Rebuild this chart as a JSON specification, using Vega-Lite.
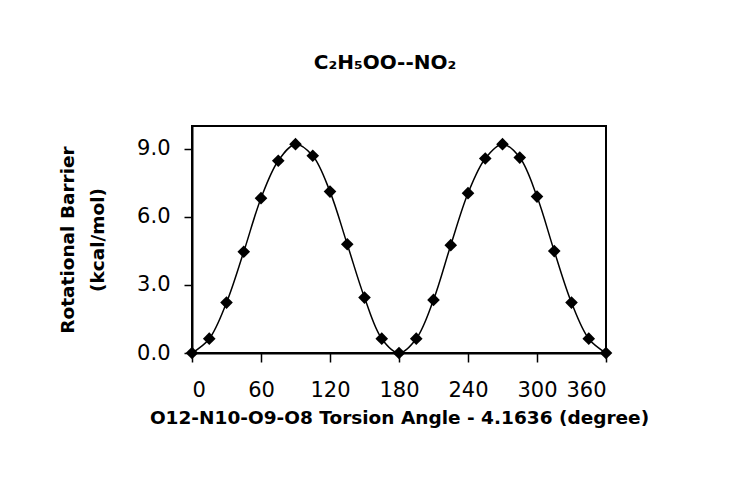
{
  "$schema": "https://vega.github.io/schema/vega-lite/v6.json",
  "autosize": {"type": "none"},
  "padding": {"left": 192, "top": 126, "right": 146, "bottom": 125},
  "width": 414,
  "height": 227,
  "background": "white",
  "config": {
    "view": {"stroke": "black", "strokeWidth": 2},
    "font": "DejaVu Sans"
  },
  "title": {
    "text": "C₂H₅OO--NO₂",
    "fontSize": 20,
    "fontWeight": "bold",
    "font": "DejaVu Sans",
    "color": "black",
    "anchor": "middle",
    "baseline": "alphabetic",
    "dx": -14,
    "offset": 37
  },
  "data": {
    "values": [
      {"angle": 0, "barrier": 0},
      {"angle": 15, "barrier": 0.63},
      {"angle": 30, "barrier": 2.22},
      {"angle": 45, "barrier": 4.46},
      {"angle": 60, "barrier": 6.82},
      {"angle": 75, "barrier": 8.47},
      {"angle": 90, "barrier": 9.2},
      {"angle": 105, "barrier": 8.69},
      {"angle": 120, "barrier": 7.11},
      {"angle": 135, "barrier": 4.79},
      {"angle": 150, "barrier": 2.44},
      {"angle": 165, "barrier": 0.63},
      {"angle": 180, "barrier": 0},
      {"angle": 195, "barrier": 0.63},
      {"angle": 210, "barrier": 2.34},
      {"angle": 225, "barrier": 4.75},
      {"angle": 240, "barrier": 7.04},
      {"angle": 255, "barrier": 8.57},
      {"angle": 270, "barrier": 9.2},
      {"angle": 285, "barrier": 8.61},
      {"angle": 300, "barrier": 6.89},
      {"angle": 315, "barrier": 4.49},
      {"angle": 330, "barrier": 2.22},
      {"angle": 345, "barrier": 0.63},
      {"angle": 360, "barrier": 0}
    ]
  },
  "encoding": {
    "x": {
      "field": "angle",
      "type": "quantitative",
      "scale": {"domain": [0, 360], "nice": false, "zero": false},
      "axis": {
        "values": [0, 60, 120, 180, 240, 300, 360],
        "title": "O12-N10-O9-O8 Torsion Angle - 4.1636 (degree)",
        "titleFont": "DejaVu Sans",
        "titleFontSize": 18.5,
        "titleFontWeight": "bold",
        "titleColor": "black",
        "titlePadding": 8,
        "labelFontSize": 21,
        "labelColor": "black",
        "labelPadding": 17,
        "labelFont": "DejaVu Sans",
        "domainColor": "black",
        "domainWidth": 2,
        "tickColor": "black",
        "tickWidth": 1.5,
        "tickSize": 9,
        "grid": false
      }
    },
    "y": {
      "field": "barrier",
      "type": "quantitative",
      "scale": {"domain": [0, 10], "nice": false},
      "axis": {
        "values": [0, 3, 6, 9],
        "format": ".1f",
        "title": ["Rotational Barrier", "(kcal/mol)"],
        "titleFont": "DejaVu Sans",
        "titleFontSize": 18.5,
        "titleFontWeight": "bold",
        "titleColor": "black",
        "titlePadding": 29,
        "titleLineHeight": 30,
        "labelFontSize": 21,
        "labelColor": "black",
        "labelPadding": 14,
        "labelFont": "DejaVu Sans",
        "domainColor": "black",
        "domainWidth": 2,
        "tickColor": "black",
        "tickWidth": 1.5,
        "tickSize": 8,
        "grid": false
      }
    }
  },
  "layer": [
    {
      "mark": {"type": "line", "color": "black", "strokeWidth": 1.5, "interpolate": "catmull-rom"}
    },
    {
      "mark": {"type": "point", "shape": "diamond", "filled": true, "color": "black", "opacity": 1, "size": 160}
    }
  ]
}
